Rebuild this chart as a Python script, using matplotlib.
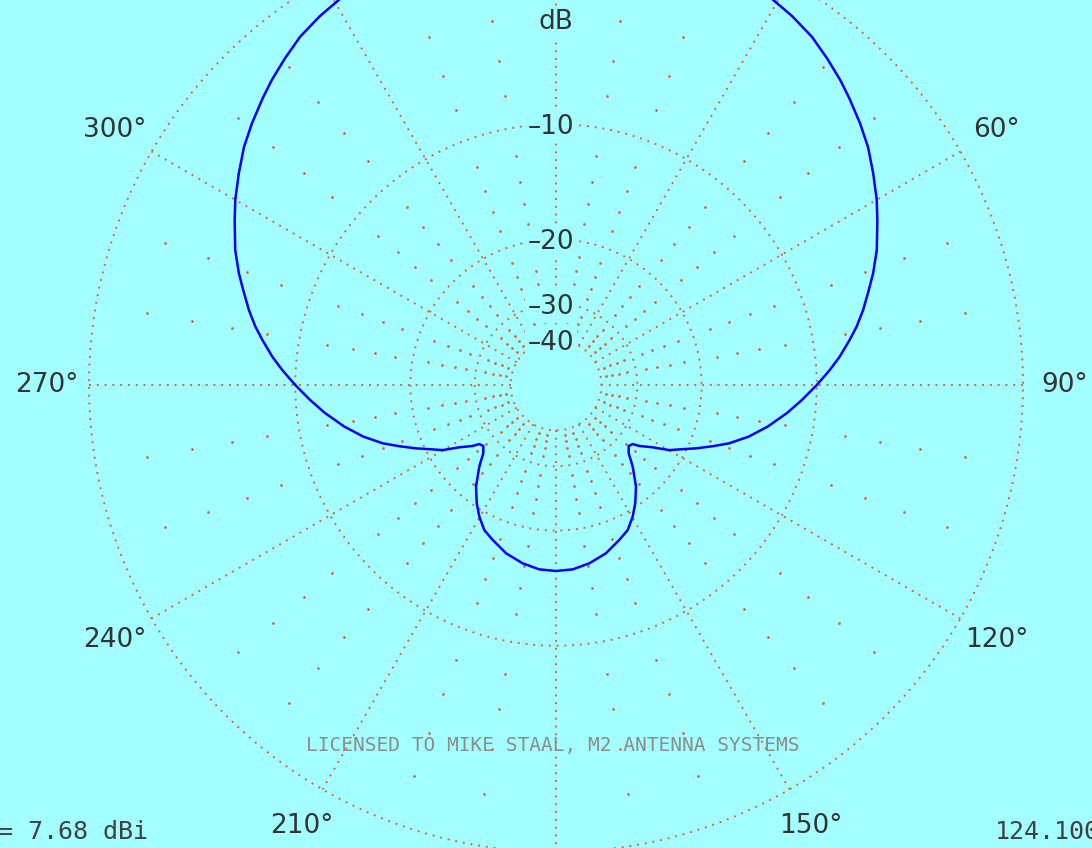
import numpy as np
import matplotlib
matplotlib.use("Agg")
import matplotlib.pyplot as plt

# azimuth pattern (degrees, dB relative to max)
pattern_deg = [0, 5, 10, 15, 20, 25, 29.4, 32.6, 36.3, 39.7, 43.0, 45.6, 49.3, 52.7, 56.3,
               60.0, 62.9, 67.2, 70.6, 73.1, 76.3, 79.0, 81.3, 84.3, 86.9, 90,
               93.5, 96.9, 101.1, 105.0, 108.6, 111.3, 114.3, 117.0, 119.9, 122.8, 126.2,
               127.6, 130, 133.2, 136.8, 141.8, 146.2, 149.8, 153.7, 157.8, 163.5, 169.4,
               174.8, 180,
               185.2, 190.6, 196.5, 202.2, 206.3, 210.2, 213.8, 218.2, 223.2, 226.8, 230,
               232.4, 233.8, 237.2, 240.1, 243.0, 245.7, 248.7, 251.4, 255.0, 258.9, 263.1,
               266.5, 270,
               273.1, 275.7, 278.7, 281.0, 283.7, 286.9, 289.4, 292.8, 297.1, 300.0, 303.7,
               307.3, 310.7, 314.4, 317.0, 320.3, 323.7, 327.4, 330.6, 335, 340, 345, 350,
               355, 360]
pattern_db = [0, -0.03, -0.11, -0.24, -0.43, -0.68, -0.94, -1.10, -1.33, -1.64, -1.95, -2.22,
              -2.61, -2.99, -3.48, -3.98, -4.42, -5.05, -5.64, -6.12, -6.70, -7.24, -7.77,
              -8.47, -9.15, -10.0,
              -10.98, -11.95, -13.25, -14.60, -16.10, -17.50, -19.05, -20.50, -21.87, -24.05,
              -25.91, -27.01, -27.35, -26.5, -24.49, -22.03, -20.38, -19.22, -18.19, -17.61,
              -16.79, -16.23, -15.88, -15.80,
              -15.88, -16.23, -16.79, -17.61, -18.19, -19.22, -20.38, -22.03, -24.49, -26.5,
              -27.35, -27.01, -25.91, -24.05, -21.87, -20.50, -19.05, -17.50, -16.10, -14.60,
              -13.25, -11.95, -10.98, -10.0,
              -9.15, -8.47, -7.77, -7.24, -6.70, -6.12, -5.64, -5.05, -4.42, -3.98, -3.48,
              -2.99, -2.61, -2.22, -1.95, -1.64, -1.33, -1.10, -0.94, -0.68, -0.43, -0.24,
              -0.11, -0.03, 0]

ring_db = [0, -10, -20, -30, -40]
ring_labels = ["–10", "–20", "–30", "–40"]
spoke_angles = list(range(0, 360, 30))
angle_labels = [60, 90, 120, 150, 210, 240, 270, 300]
minor_angles = [a for a in range(0, 360, 10) if a % 30 != 0]
minor_db = [d for d in range(-2, -40, -2) if d % 10 != 0]

max_gain_text = "= 7.68 dBi"
freq_text = "124.100"
license_text = "LICENSED TO MIKE STAAL, M2 ANTENNA SYSTEMS"

bg = "#A3FFFF"
grid_col = "#D9653B"
txt_col = "#333333"


def arrl(db):
    # ARRL log scale: 0.89 per 2 dB
    return 0.89 ** (-np.asarray(db, dtype=float) / 2.0)


W, H = 1092, 848
cx, cy = 556, H - 385
R = 467
rmax = 1.2
half = R * rmax

fig = plt.figure(figsize=(W / 100, H / 100), dpi=100, facecolor=bg)
ax = fig.add_axes([(cx - half) / W, (cy - half) / H, 2 * half / W, 2 * half / H],
                  projection="polar")
ax.set_facecolor(bg)
ax.set_theta_zero_location("N")
ax.set_theta_direction(-1)
ax.set_ylim(0, rmax)
ax.grid(False)
ax.set_xticks([])
ax.set_yticks([])
ax.spines["polar"].set_visible(False)

dots = dict(color=grid_col, lw=1.4, linestyle=(0, (1, 3.0)), zorder=1)

# rings
t = np.linspace(0, 2 * np.pi, 1441)
for d in ring_db:
    ax.plot(t, np.full_like(t, arrl(d)), **dots)

# 30 degree spokes
for a in spoke_angles:
    ax.plot([np.deg2rad(a)] * 2, [arrl(-40), arrl(0)], **dots)

# sparse 2 dB dots on 10 degree spokes
mt, mr = [], []
for a in minor_angles:
    for d in minor_db:
        mt.append(np.deg2rad(a))
        mr.append(arrl(d))
ax.scatter(mt, mr, s=4, color=grid_col, linewidths=0, zorder=1)

# pattern
ax.plot(np.deg2rad(pattern_deg), arrl(pattern_db), color="#0000FF", lw=1.8, zorder=4)

# angle labels
for a in angle_labels:
    ax.text(np.deg2rad(a), 1.09, f"{a}°", ha="center", va="center",
            fontsize=19, color=txt_col, family="DejaVu Sans")

# dB labels on the 0 degree spoke
box = dict(boxstyle="square,pad=0.12", fc=bg, ec="none")
ax.text(0, 363 / R, "dB", ha="center", va="center", fontsize=19, color=txt_col,
        bbox=box, zorder=3)
for d, lab in zip(ring_db[1:], ring_labels):
    ax.annotate(lab, xy=(0, arrl(d)), xytext=(-5, 0), textcoords="offset pixels",
                ha="center", va="center_baseline", fontsize=19, color=txt_col,
                bbox=box, zorder=3)

fig.text(553 / W, (H - 745) / H, license_text, ha="center", va="center",
         fontsize=14, color="#8C8C8C", family="DejaVu Sans Mono")
fig.text(-2 / W, (H - 832) / H, max_gain_text, ha="left", va="center",
         fontsize=18, color="#404040", family="DejaVu Sans Mono")
fig.text(995 / W, (H - 832) / H, freq_text, ha="left", va="center",
         fontsize=18, color="#404040", family="DejaVu Sans Mono")

fig.savefig("out.png", dpi=100, facecolor=bg)
